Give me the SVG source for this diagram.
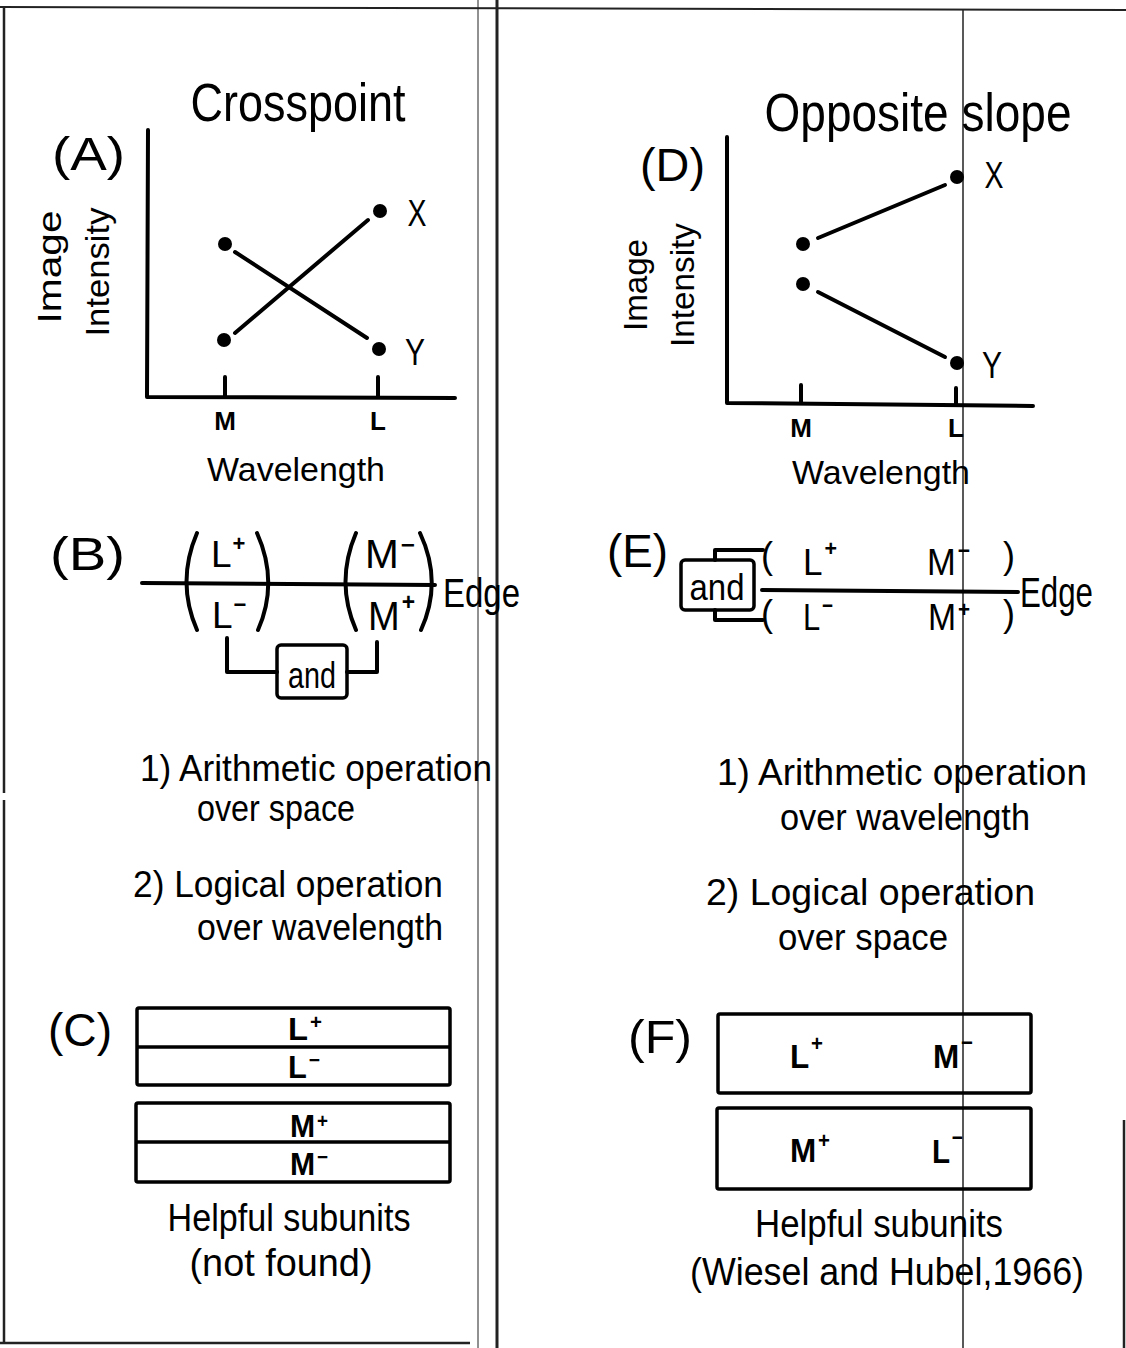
<svg xmlns="http://www.w3.org/2000/svg" width="1126" height="1348" viewBox="0 0 1126 1348">
<style>
text{font-family:"Liberation Sans","DejaVu Sans",sans-serif;fill:#000}
.t{font-size:37px}
.lab{font-size:46px}
.b{font-weight:bold}
.sup{font-weight:bold}
.ln{fill:none;stroke:#000;stroke-width:4;stroke-linecap:round;stroke-linejoin:round}
.bx{fill:none;stroke:#000;stroke-width:3.5}
.scan{fill:none;stroke:#222}
</style>
<defs>
<circle id="dot" r="7" fill="#000"/>
</defs>
<rect width="1126" height="1348" fill="#fff"/>
<g id="scan-lines">
<path class="scan" stroke-width="2" d="M0,7 L1126,10"/>
<path class="scan" stroke-width="2.5" d="M4,7 V793 M4,800 V1343"/>
<path class="scan" stroke-width="2.5" d="M0,1343 H470"/>
<path class="scan" stroke-width="1" d="M478,0 V1348"/>
<path class="scan" stroke-width="3" stroke="#555" d="M497,0 V1348"/>
<path class="scan" stroke-width="1.5" d="M963,10 V1348"/>
<path class="scan" stroke-width="2.5" d="M1124,1120 V1348"/>
</g>

<g id="titles">
<text x="298" y="121" font-size="54" text-anchor="middle" textLength="215" lengthAdjust="spacingAndGlyphs">Crosspoint</text>
<text x="918" y="131" font-size="53" text-anchor="middle" textLength="307" lengthAdjust="spacingAndGlyphs">Opposite slope</text>
</g>

<g id="panel-A">
<text class="lab" x="52" y="170" textLength="73" lengthAdjust="spacingAndGlyphs">(A)</text>
<path class="ln" d="M148,130 L147,397 L455,398"/>
<path class="ln" d="M225,377 V397 M378,377 V397"/>
<text class="b" x="225" y="430" font-size="26" text-anchor="middle">M</text>
<text class="b" x="378" y="430" font-size="26" text-anchor="middle">L</text>
<text x="296" y="481" font-size="34" text-anchor="middle" textLength="178" lengthAdjust="spacingAndGlyphs">Wavelength</text>
<text transform="translate(61,267) rotate(-90)" font-size="34" text-anchor="middle" textLength="113" lengthAdjust="spacingAndGlyphs">Image</text>
<text transform="translate(109,272) rotate(-90)" font-size="34" text-anchor="middle" textLength="129" lengthAdjust="spacingAndGlyphs">Intensity</text>
<use href="#dot" x="225" y="244"/>
<use href="#dot" x="224" y="340"/>
<use href="#dot" x="380" y="211"/>
<use href="#dot" x="379" y="349"/>
<text x="417" y="226" font-size="36" text-anchor="middle" textLength="19" lengthAdjust="spacingAndGlyphs">X</text>
<text x="415" y="365" font-size="36" text-anchor="middle" textLength="20" lengthAdjust="spacingAndGlyphs">Y</text>
</g>

<g id="panel-D">
<text class="lab" x="640" y="181" textLength="65" lengthAdjust="spacingAndGlyphs">(D)</text>
<path class="ln" d="M727,137 L727,403 L1033,406"/>
<path class="ln" d="M801,385 V403 M956,388 V405"/>
<text class="b" x="801" y="437" font-size="26" text-anchor="middle">M</text>
<text class="b" x="956" y="437" font-size="26" text-anchor="middle">L</text>
<text x="881" y="484" font-size="34" text-anchor="middle" textLength="178" lengthAdjust="spacingAndGlyphs">Wavelength</text>
<text transform="translate(647,285) rotate(-90)" font-size="34" text-anchor="middle" textLength="92" lengthAdjust="spacingAndGlyphs">Image</text>
<text transform="translate(694,285) rotate(-90)" font-size="34" text-anchor="middle" textLength="124" lengthAdjust="spacingAndGlyphs">Intensity</text>
<use href="#dot" x="803" y="244"/>
<use href="#dot" x="803" y="284"/>
<use href="#dot" x="957" y="177"/>
<use href="#dot" x="957" y="363"/>
<text x="994" y="188" font-size="36" text-anchor="middle" textLength="19" lengthAdjust="spacingAndGlyphs">X</text>
<text x="992" y="378" font-size="36" text-anchor="middle" textLength="20" lengthAdjust="spacingAndGlyphs">Y</text>
</g>

<g id="panel-B">
<text class="lab" x="50" y="570" textLength="75" lengthAdjust="spacingAndGlyphs">(B)</text>
<path class="ln" stroke-width="4.5" d="M197,533 Q176,582 197,630 M257,533 Q279,582 258,630 M356,533 Q335,582 356,630 M420,533 Q443,582 421,630"/>
<text x="211" y="567" font-size="37">L<tspan class="sup" font-size="22" dx="1" dy="-16">+</tspan></text>
<text x="212" y="628" font-size="37">L<tspan class="sup" font-size="22" dx="1" dy="-16">−</tspan></text>
<text x="365" y="568" font-size="40" textLength="50" lengthAdjust="spacingAndGlyphs">M<tspan class="sup" font-size="24" dx="2" dy="-15">−</tspan></text>
<text x="368" y="630" font-size="40" textLength="47" lengthAdjust="spacingAndGlyphs">M<tspan class="sup" font-size="24" dx="2" dy="-20">+</tspan></text>
<text x="443" y="607" font-size="40" textLength="77" lengthAdjust="spacingAndGlyphs">Edge</text>
</g>
<g id="and-B">
<rect class="bx" x="277" y="645" width="70" height="53" rx="4"/>
<text x="312" y="688" font-size="36" text-anchor="middle" textLength="48" lengthAdjust="spacingAndGlyphs">and</text>
</g>

<g id="panel-E">
<text class="lab" x="607" y="567" textLength="61" lengthAdjust="spacingAndGlyphs">(E)</text>
<text x="761" y="568" font-size="36">(</text>
<text x="761" y="626" font-size="36">(</text>
<text x="1003" y="568" font-size="36">)</text>
<text x="1003" y="626" font-size="36">)</text>
<text x="803" y="575" font-size="36" textLength="34" lengthAdjust="spacingAndGlyphs">L<tspan class="sup" font-size="22" dx="2" dy="-19">+</tspan></text>
<text x="927" y="575" font-size="36" textLength="43" lengthAdjust="spacingAndGlyphs">M<tspan class="sup" font-size="22" dx="2" dy="-17">−</tspan></text>
<text x="803" y="630" font-size="36" textLength="30" lengthAdjust="spacingAndGlyphs">L<tspan class="sup" font-size="22" dx="2" dy="-17">−</tspan></text>
<text x="928" y="630" font-size="36" textLength="42" lengthAdjust="spacingAndGlyphs">M<tspan class="sup" font-size="22" dx="2" dy="-13">+</tspan></text>
<text x="1020" y="607" font-size="42" textLength="73" lengthAdjust="spacingAndGlyphs">Edge</text>
</g>
<g id="and-E">
<rect class="bx" x="681" y="560" width="73" height="50" rx="4"/>
<text x="717" y="600" font-size="36" text-anchor="middle" textLength="55" lengthAdjust="spacingAndGlyphs">and</text>
</g>

<g id="connectors">
<path class="ln" d="M235,252 L367,338"/>
<path class="ln" d="M235,333 L368,220"/>
<path class="ln" d="M818,238 L945,185"/>
<path class="ln" d="M818,292 L945,357"/>
<path class="ln" stroke-width="3" d="M142,583 L435,585"/>
<path class="ln" stroke-width="3" d="M227,638 V672 H277 M347,672 H377 V642"/>
<path class="ln" stroke-width="3" d="M762,590 L1018,592"/>
<path class="ln" stroke-width="3" d="M715,560 V550 H763 M715,610 V620 H763"/>
</g>

<g id="text-left">
<text class="t" x="140" y="781" textLength="352" lengthAdjust="spacingAndGlyphs">1) Arithmetic operation</text>
<text class="t" x="197" y="821" textLength="158" lengthAdjust="spacingAndGlyphs">over space</text>
<text class="t" x="133" y="897" textLength="310" lengthAdjust="spacingAndGlyphs">2) Logical operation</text>
<text class="t" x="197" y="940" textLength="246" lengthAdjust="spacingAndGlyphs">over wavelength</text>
</g>
<g id="text-right">
<text class="t" x="717" y="785" font-size="38" textLength="370" lengthAdjust="spacingAndGlyphs">1) Arithmetic operation</text>
<text class="t" x="780" y="830" font-size="38" textLength="250" lengthAdjust="spacingAndGlyphs">over wavelength</text>
<text class="t" x="706" y="905" font-size="38" textLength="329" lengthAdjust="spacingAndGlyphs">2) Logical operation</text>
<text class="t" x="778" y="950" font-size="38" textLength="170" lengthAdjust="spacingAndGlyphs">over space</text>
</g>

<g id="panel-C">
<text class="lab" x="48" y="1046" textLength="64" lengthAdjust="spacingAndGlyphs">(C)</text>
<rect class="bx" x="137" y="1008" width="313" height="77" rx="2"/>
<path class="bx" d="M137,1047 H450"/>
<rect class="bx" x="136" y="1103" width="314" height="79" rx="2"/>
<path class="bx" d="M136,1142 H450"/>
<text class="b" x="288" y="1040" font-size="32" textLength="34" lengthAdjust="spacingAndGlyphs">L<tspan font-size="20" dx="2" dy="-11">+</tspan></text>
<text class="b" x="288" y="1078" font-size="32" textLength="32" lengthAdjust="spacingAndGlyphs">L<tspan font-size="20" dx="2" dy="-11">−</tspan></text>
<text class="b" x="290" y="1137" font-size="32" textLength="38" lengthAdjust="spacingAndGlyphs">M<tspan font-size="20" dx="2" dy="-9">+</tspan></text>
<text class="b" x="290" y="1175" font-size="32" textLength="38" lengthAdjust="spacingAndGlyphs">M<tspan font-size="20" dx="2" dy="-11">−</tspan></text>
<text x="289" y="1231" font-size="38" text-anchor="middle" textLength="243" lengthAdjust="spacingAndGlyphs">Helpful subunits</text>
<text x="281" y="1276" font-size="38" text-anchor="middle" textLength="183" lengthAdjust="spacingAndGlyphs">(not found)</text>
</g>

<g id="panel-F">
<text class="lab" x="628" y="1053" textLength="64" lengthAdjust="spacingAndGlyphs">(F)</text>
<rect class="bx" x="718" y="1014" width="313" height="79" rx="2"/>
<rect class="bx" x="717" y="1108" width="314" height="81" rx="2"/>
<text class="b" x="790" y="1068" font-size="34" textLength="33" lengthAdjust="spacingAndGlyphs">L<tspan font-size="22" dx="2" dy="-17">+</tspan></text>
<text class="b" x="933" y="1068" font-size="34" textLength="40" lengthAdjust="spacingAndGlyphs">M<tspan font-size="22" dx="2" dy="-18">−</tspan></text>
<text class="b" x="790" y="1162" font-size="34" textLength="40" lengthAdjust="spacingAndGlyphs">M<tspan font-size="22" dx="2" dy="-14">+</tspan></text>
<text class="b" x="932" y="1163" font-size="34" textLength="31" lengthAdjust="spacingAndGlyphs">L<tspan font-size="22" dx="2" dy="-18">−</tspan></text>
<text x="879" y="1237" font-size="38" text-anchor="middle" textLength="248" lengthAdjust="spacingAndGlyphs">Helpful subunits</text>
<text x="887" y="1285" font-size="38" text-anchor="middle" textLength="394" lengthAdjust="spacingAndGlyphs">(Wiesel and Hubel,1966)</text>
</g>
</svg>
